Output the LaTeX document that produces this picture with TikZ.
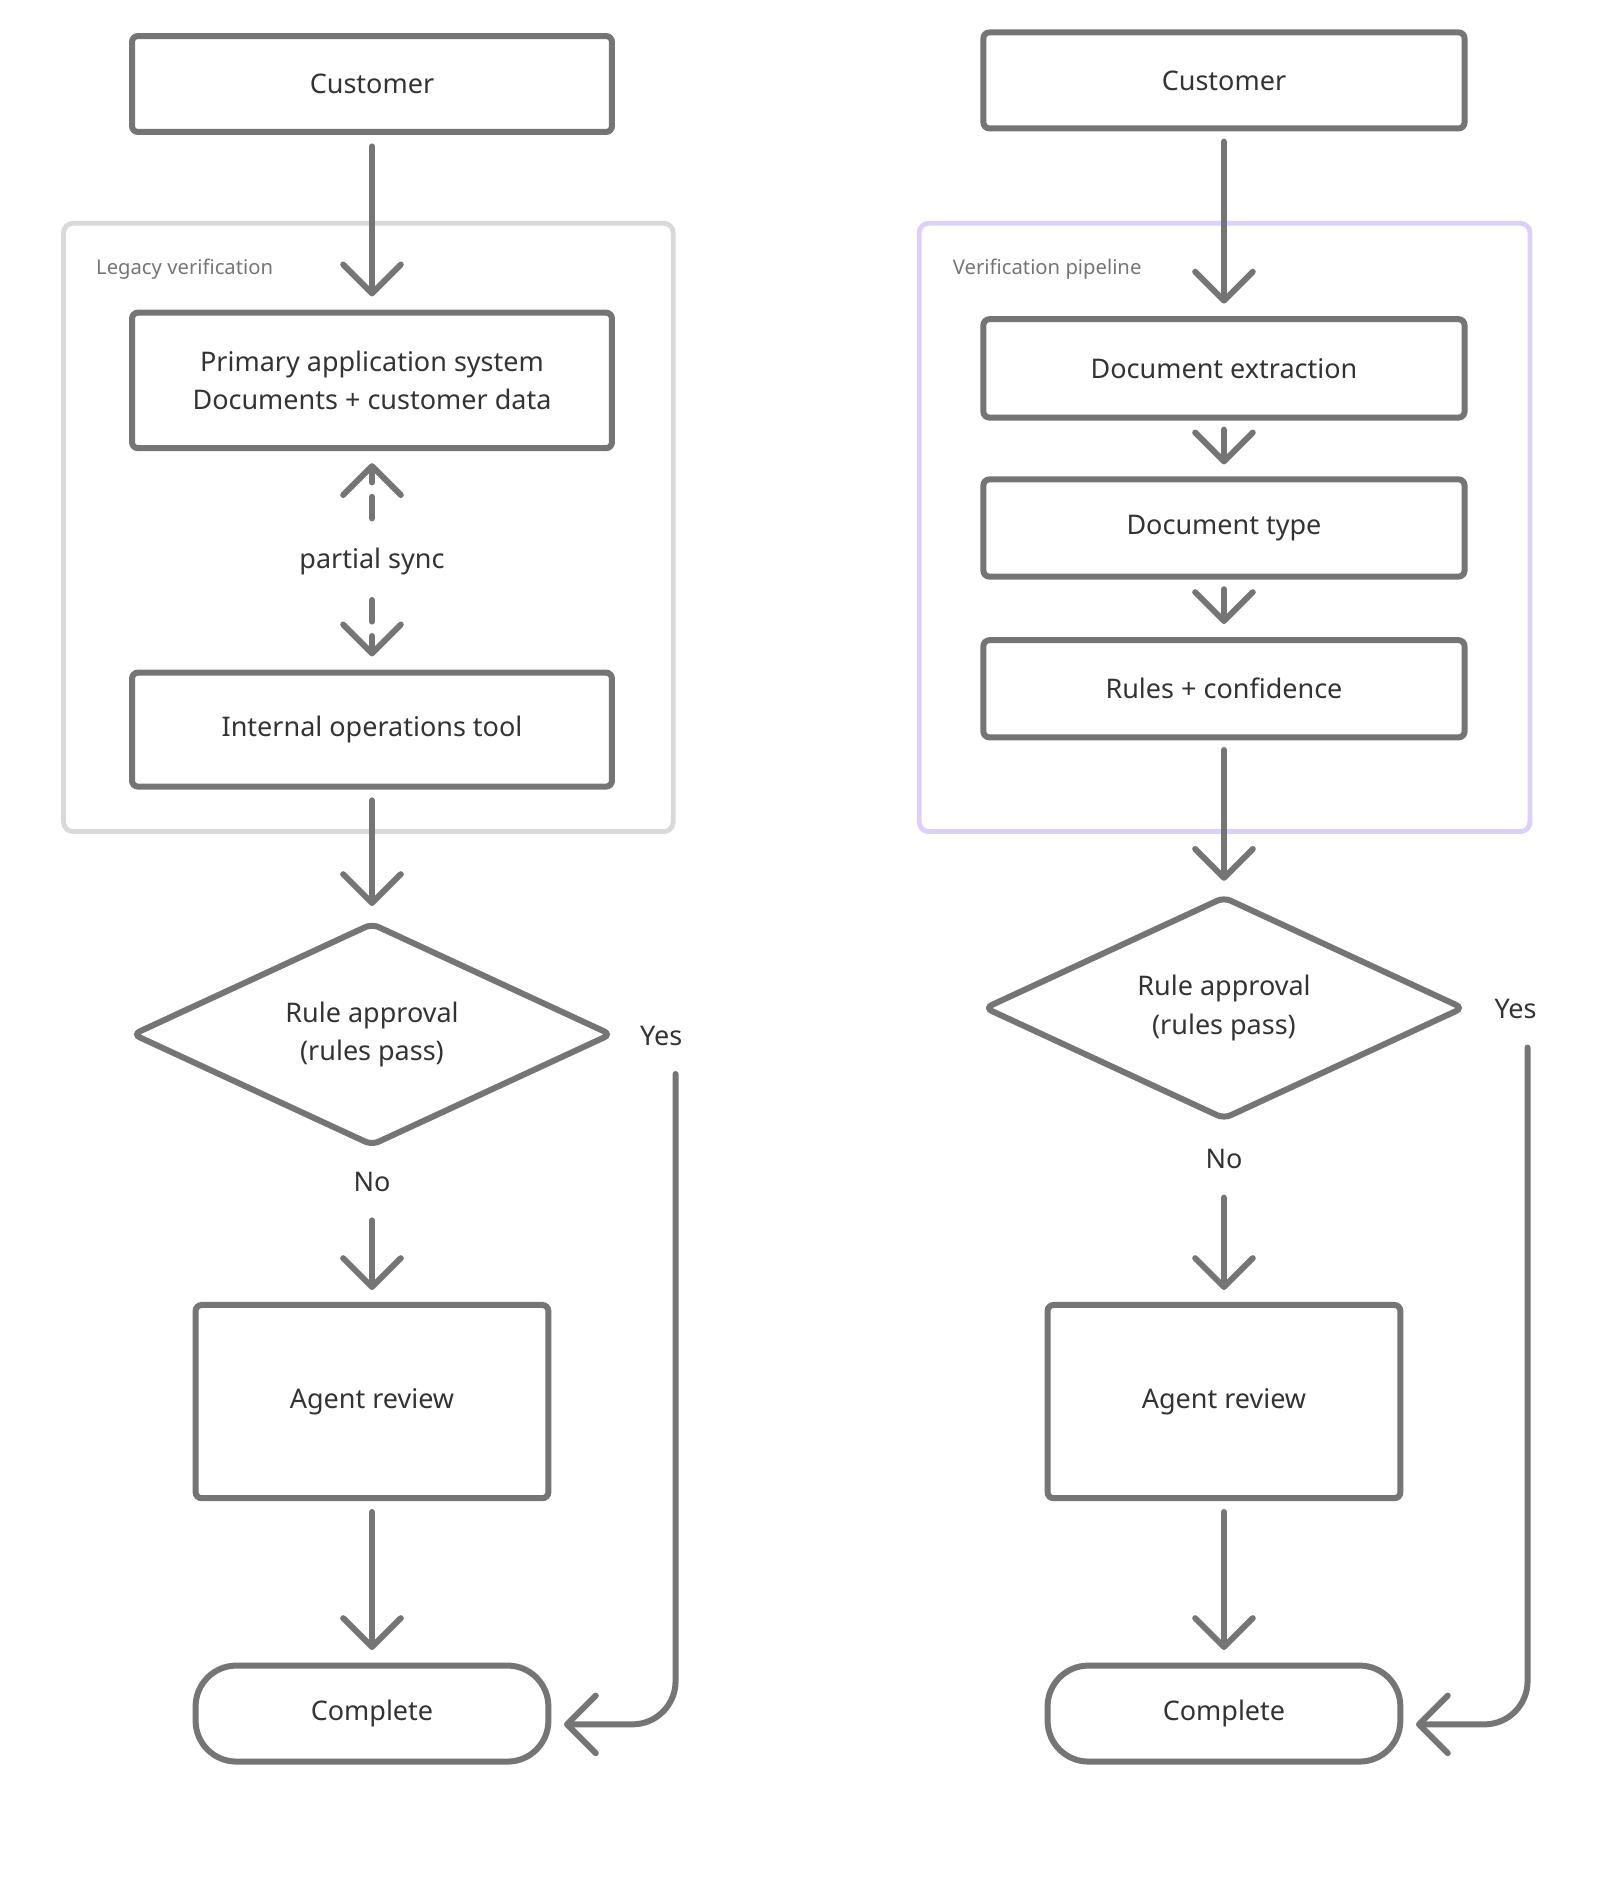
\documentclass[tikz,border=0pt]{standalone}
\usepackage{fontspec}
\setmainfont{Noto Sans}
\usetikzlibrary{arrows.meta,shapes.geometric}
\definecolor{ln}{HTML}{757575}
\definecolor{tx}{HTML}{333333}
\definecolor{grp}{HTML}{D9D9D9}
\definecolor{pur}{HTML}{DCCFFB}
\begin{document}
\begin{tikzpicture}[x=0.05cm,y=-0.05cm,
  box/.style={draw=ln,line width=0.25cm,rounded corners=0.25cm,text=tx,font=\fontsize{32}{46}\selectfont,align=center,inner sep=0pt},
  dia/.style={draw=ln,line width=0.25cm,diamond,rounded corners=0.3cm,text=tx,font=\fontsize{32}{46}\selectfont,align=center,inner sep=0pt,minimum width=20cm,minimum height=9.3cm,aspect=2.15},
  term/.style={box,rounded corners=1.7cm},
  group/.style={line width=0.2cm,rounded corners=0.4cm},
  glab/.style={text=ln,font=\fontsize{24}{28}\selectfont,anchor=west,inner sep=0pt},
  lab/.style={text=tx,font=\fontsize{32}{38}\selectfont,inner sep=0pt},
  arr/.style={draw=ln,line width=0.25cm,line cap=round,-{Straight Barb[length=1.2cm,width=2.4cm,line cap=round,round]}},
  darr/.style={arr,dash pattern=on 0.9cm off 0.6cm}]
\useasboundingbox (0,0) rectangle (1333.3,1566.7);
% groups
\draw[group,draw=grp] (53,186) rectangle (561,693);
\draw[group,draw=pur] (766,186) rectangle (1275,693);
\node[glab] (gl) at (80,224) {Legacy verification};
\node[glab] (gr) at (794,224) {Verification pipeline};
% left
\node[box,minimum width=20cm,minimum height=4cm] (c1) at (310,70) {Customer};
\node[box,minimum width=20cm,minimum height=5.65cm] (p1) at (310,317) {Primary application system\\Documents + customer data};
\node[lab] (ps) at (310,468) {partial sync};
\node[box,minimum width=20cm,minimum height=4.75cm] (io) at (310,608) {Internal operations tool};
\node[dia] (d1) at (310,862) {Rule approval\\(rules pass)};
\node[lab] (y1) at (551,863) {Yes};
\node[lab] (n1) at (310,985) {No};
\node[box,minimum width=14.7cm,minimum height=8.05cm] (a1) at (310,1168) {Agent review};
\node[term,minimum width=14.7cm,minimum height=4cm] (e1) at (310,1428) {Complete};
\coordinate (t1) at (310,122); \coordinate (h1) at (310,247);
\draw[arr] (t1) -- (h1);
\coordinate (u1) at (310,432); \coordinate (u2) at (310,386);
\draw[darr] (u1) -- (u2);
\coordinate (v1) at (310,500); \coordinate (v2) at (310,547);
\draw[darr] (v1) -- (v2);
\coordinate (w1) at (310,667); \coordinate (w2) at (310,755);
\draw[arr] (w1) -- (w2);
\coordinate (x1) at (310,1017); \coordinate (x2) at (310,1075);
\draw[arr] (x1) -- (x2);
\coordinate (z1) at (310,1260); \coordinate (z2) at (310,1375);
\draw[arr] (z1) -- (z2);
\coordinate (ys1) at (563,895); \coordinate (ye1) at (470,1437);
\draw[arr,rounded corners=1.8cm] (ys1) -- (563,1437) -- (ye1);
% right
\node[box,minimum width=20.05cm,minimum height=4cm] (c2) at (1020,67) {Customer};
\node[box,minimum width=20.05cm,minimum height=4.1cm] (de) at (1020,307) {Document extraction};
\node[box,minimum width=20.05cm,minimum height=4.05cm] (dt) at (1020,440) {Document type};
\node[box,minimum width=20.05cm,minimum height=4.05cm] (rc) at (1020,574) {Rules + confidence};
\node[dia] (d2) at (1020,840) {Rule approval\\(rules pass)};
\node[lab] (y2) at (1263,841) {Yes};
\node[lab] (n2) at (1020,966) {No};
\node[box,minimum width=14.7cm,minimum height=8.05cm] (a2) at (1020,1168) {Agent review};
\node[term,minimum width=14.7cm,minimum height=4cm] (e2) at (1020,1428) {Complete};
\coordinate (r1) at (1020,118); \coordinate (r2) at (1020,253);
\draw[arr] (r1) -- (r2);
\coordinate (r3) at (1020,358); \coordinate (r4) at (1020,387);
\draw[arr] (r3) -- (r4);
\coordinate (r5) at (1020,491); \coordinate (r6) at (1020,520);
\draw[arr] (r5) -- (r6);
\coordinate (r7) at (1020,625); \coordinate (r8) at (1020,734);
\draw[arr] (r7) -- (r8);
\coordinate (r9) at (1020,998); \coordinate (r10) at (1020,1075);
\draw[arr] (r9) -- (r10);
\coordinate (r11) at (1020,1260); \coordinate (r12) at (1020,1375);
\draw[arr] (r11) -- (r12);
\coordinate (ys2) at (1273,873); \coordinate (ye2) at (1180,1437);
\draw[arr,rounded corners=1.8cm] (ys2) -- (1273,1437) -- (ye2);
\end{tikzpicture}
\end{document}
